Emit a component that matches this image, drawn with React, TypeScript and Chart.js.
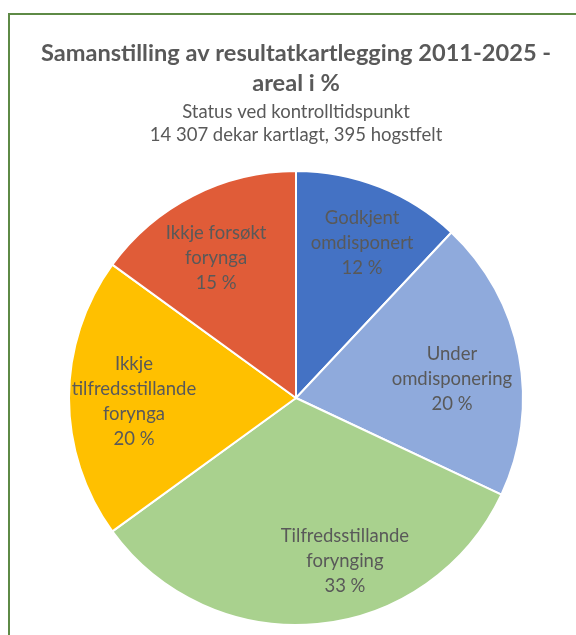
import React, { useEffect, useRef } from "react";
import { Chart, registerables } from "chart.js";

Chart.register(...registerables);

// ---- data ----
const CATEGORIES = [
  "Godkjent\nomdisponert",
  "Under\nomdisponering",
  "Tilfredsstillande\nforynging",
  "Ikkje\ntilfredsstillande\nforynga",
  "Ikkje forsøkt\nforynga",
];
const VALUES = [12, 20, 33, 20, 15];
const TITLE_LINES = ["Samanstilling av resultatkartlegging 2011-2025 -", "areal i %"];
const SUBTITLE_LINES = ["Status ved kontrolltidspunkt", "14 307 dekar kartlagt, 395 hogstfelt"];

// ---- style ----
const COLORS = ["#4472C4", "#8FAADC", "#A9D18E", "#FFC000", "#E05C38"];
const TEXT = "#595959";
const FONT = "Lato, 'Open Sans', sans-serif";
// label placement (fraction of radius, angular shift in degrees from slice middle)
const LABEL_FRAC = [0.742, 0.692, 0.75, 0.714, 0.71];
const LABEL_SHIFT = [1.5, 3.9, -11.3, -1.2, -2.7];

const labelPlugin = {
  id: "sliceLabels",
  afterDatasetsDraw(chart: any) {
    const ctx = chart.ctx;
    const meta = chart.getDatasetMeta(0);
    const total = VALUES.reduce((a, b) => a + b, 0);
    ctx.save();
    ctx.fillStyle = TEXT;
    ctx.font = `18.5px ${FONT}`;
    ctx.textAlign = "center";
    ctx.textBaseline = "middle";
    meta.data.forEach((arc: any, i: number) => {
      const p = arc.getProps(["x", "y", "startAngle", "endAngle", "outerRadius"], true);
      const mid = (p.startAngle + p.endAngle) / 2 + (LABEL_SHIFT[i] * Math.PI) / 180;
      const d = p.outerRadius * LABEL_FRAC[i];
      const cx = p.x + d * Math.cos(mid);
      const cy = p.y + d * Math.sin(mid);
      const pct = Math.round((VALUES[i] / total) * 100);
      const lines = [...CATEGORIES[i].split("\n"), `${pct} %`];
      const lh = 25;
      const top = cy - ((lines.length - 1) * lh) / 2;
      lines.forEach((l, k) => ctx.fillText(l, cx, top + k * lh));
    });
    ctx.restore();
  },
};

export default function App() {
  const ref = useRef<HTMLCanvasElement>(null);
  useEffect(() => {
    if (!ref.current) return;
    const chart = new Chart(ref.current, {
      type: "pie",
      data: {
        labels: CATEGORIES.map((c) => c.replace(/\n/g, " ")),
        datasets: [
          {
            data: VALUES,
            backgroundColor: COLORS,
            borderColor: "#ffffff",
            borderWidth: 2,
          },
        ],
      },
      options: {
        responsive: false,
        animation: false,
        layout: { padding: { left: 16, right: 0, top: 0, bottom: 9 } },
        plugins: {
          legend: { display: false },
          tooltip: { enabled: false },
          title: {
            display: true,
            text: TITLE_LINES,
            color: TEXT,
            font: { family: FONT, size: 23.6, weight: "bold", lineHeight: 30 / 23.6 },
            padding: { top: 38, bottom: 0 },
          },
          subtitle: {
            display: true,
            text: SUBTITLE_LINES,
            color: TEXT,
            font: { family: FONT, size: 18.5, lineHeight: 23 / 18.5 },
            padding: { top: 2.5, bottom: 23.5 },
          },
        },
      },
      plugins: [labelPlugin],
    });
    return () => chart.destroy();
  }, []);
  return (
    <div
      style={{
        position: "fixed",
        left: 0,
        top: 0,
        width: 576,
        height: 635,
        overflow: "hidden",
        background: "#fff",
      }}
    >
      <div
        style={{
          position: "absolute",
          left: 8,
          top: 13,
          width: 700,
          height: 800,
          borderLeft: "2px solid #5E8A46",
          borderTop: "2px solid #5E8A46",
        }}
      />
      <canvas ref={ref} width={576} height={635} style={{ position: "absolute", left: 0, top: 0 }} />
    </div>
  );
}
